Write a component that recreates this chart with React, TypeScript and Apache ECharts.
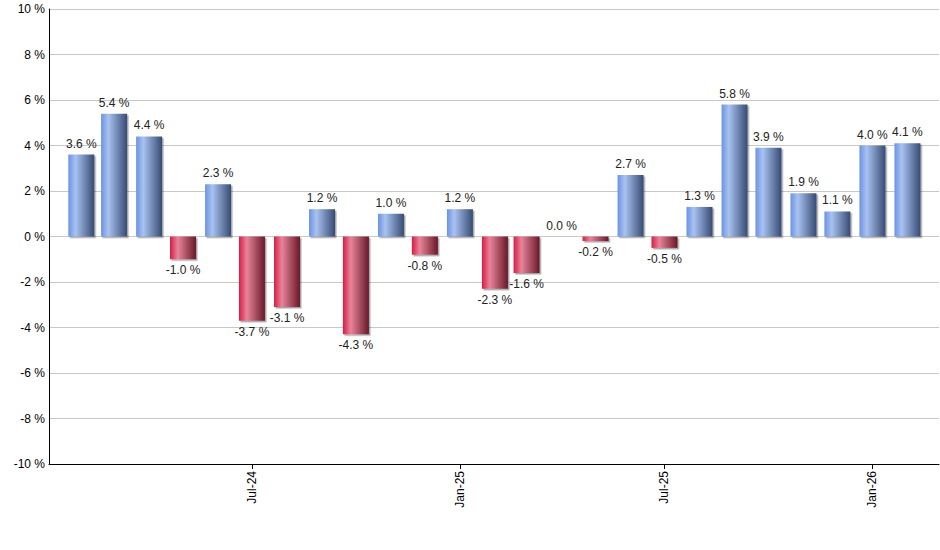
import { useEffect, useRef } from 'react';
import * as echarts from 'echarts';

// monthly change, Feb 2024 .. Feb 2026
const months = [
  '2024-02', '2024-03', '2024-04', '2024-05', '2024-06', '2024-07', '2024-08', '2024-09',
  '2024-10', '2024-11', '2024-12', '2025-01', '2025-02', '2025-03', '2025-04', '2025-05',
  '2025-06', '2025-07', '2025-08', '2025-09', '2025-10', '2025-11', '2025-12', '2026-01',
  '2026-02',
];
const changes = [
  3.6, 5.4, 4.4, -1.0, 2.3, -3.7, -3.1, 1.2, -4.3, 1.0, -0.8, 1.2, -2.3, -1.6, 0.0, -0.2,
  2.7, -0.5, 1.3, 5.8, 3.9, 1.9, 1.1, 4.0, 4.1,
];
const tickMonths = ['2024-07', '2025-01', '2025-07', '2026-01'];
const yTicks = { min: -10, max: 10, step: 2 };

const monthNames = ['Jan', 'Feb', 'Mar', 'Apr', 'May', 'Jun', 'Jul', 'Aug', 'Sep', 'Oct', 'Nov', 'Dec'];

const toTime = (m: string) => {
  const [y, mo] = m.split('-').map(Number);
  return new Date(y, mo - 1, 1).getTime();
};

const font = '"Liberation Sans", Arial, sans-serif';

const blue = new echarts.graphic.LinearGradient(0, 0, 1, 0, [
  { offset: 0, color: '#6b93e3' },
  { offset: 0.28, color: '#a9c2f0' },
  { offset: 1, color: '#364b73' },
]);
const red = new echarts.graphic.LinearGradient(0, 0, 1, 0, [
  { offset: 0, color: '#d81c45' },
  { offset: 0.3, color: '#e8849a' },
  { offset: 1, color: '#691828' },
]);

export default function App() {
  const chartRef = useRef<HTMLDivElement>(null);

  useEffect(() => {
    if (!chartRef.current) return;
    const chart = echarts.init(chartRef.current, undefined, { renderer: 'svg' });

    const ticks = tickMonths.map(toTime);

    const option: echarts.EChartsOption = {
      animation: false,
      backgroundColor: '#fff',
      grid: { left: 49, right: 1, top: 9, bottom: 86 },
      xAxis: {
        type: 'value',
        min: new Date(2024, 0, 3, 10).getTime(),
        max: new Date(2026, 1, 28, 22).getTime(),
        axisLine: { show: true, onZero: false, lineStyle: { color: '#000', width: 1 } },
        axisTick: { show: true, customValues: ticks, length: 5, lineStyle: { color: '#000' } } as any,
        axisLabel: {
          customValues: ticks,
          rotate: 90,
          color: '#000',
          fontSize: 12,
          fontFamily: font,
          margin: 7,
          formatter: (v: number) => {
            const d = new Date(v);
            return `${monthNames[d.getMonth()]}-${String(d.getFullYear()).slice(2)}`;
          },
        } as any,
        splitLine: { show: false },
      },
      yAxis: {
        type: 'value',
        min: yTicks.min,
        max: yTicks.max,
        interval: yTicks.step,
        axisLine: { show: true, lineStyle: { color: '#000', width: 1 } },
        axisTick: { show: false },
        axisLabel: {
          color: '#000',
          fontSize: 12,
          fontFamily: font,
          margin: 4,
          formatter: '{value} %',
        },
        splitLine: { lineStyle: { color: '#c8c8c8', width: 1 } },
      },
      series: [
        {
          type: 'bar',
          barWidth: 26,
          data: months.map((m, i) => {
            const v = changes[i];
            return {
              value: [toTime(m), v],
              itemStyle: {
                color: v < 0 ? red : blue,
                shadowColor: 'rgba(0,0,0,0.35)',
                shadowOffsetX: 1.5,
                shadowOffsetY: 1.5,
                shadowBlur: 1,
              },
              label: { position: v < 0 ? 'bottom' : 'top' },
            };
          }),
          label: {
            show: true,
            color: '#222',
            fontSize: 12,
            fontFamily: font,
            distance: 5,
            formatter: (p: any) => `${p.value[1].toFixed(1)} %`,
          },
        },
      ],
    };

    chart.setOption(option);
    return () => {
      chart.dispose();
    };
  }, []);

  return (
    <div
      ref={chartRef}
      style={{ position: 'fixed', left: 0, top: 0, width: 940, height: 550 }}
    />
  );
}
